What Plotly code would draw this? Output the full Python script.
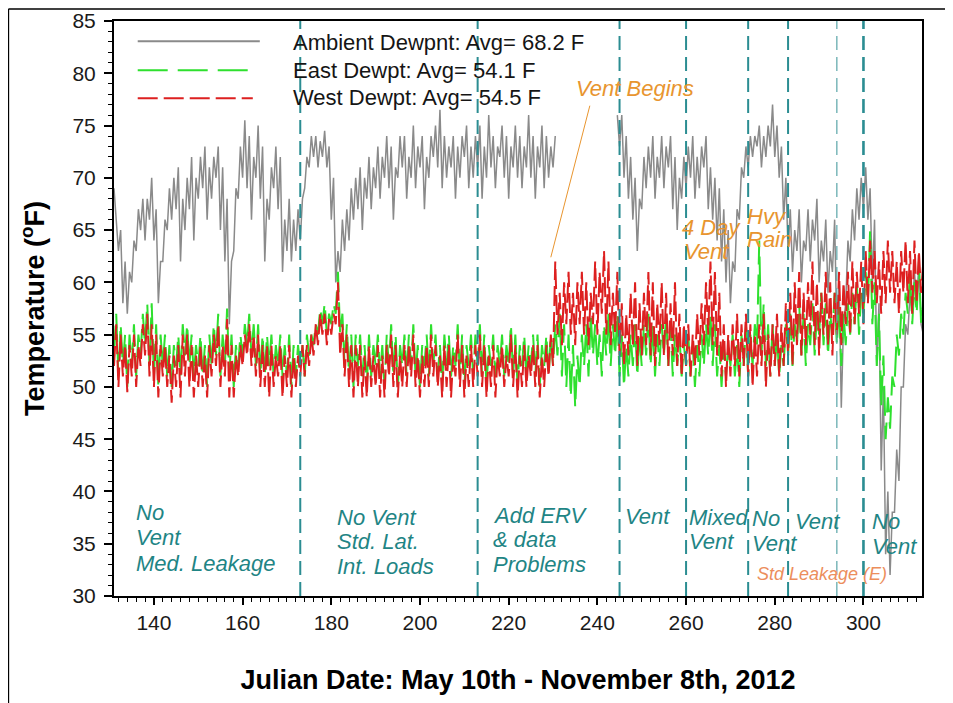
import plotly.graph_objects as go

# ---------------- data (two readings per day: low, high) ----------------
first_day = 131
readings_per_day = 2

ambient_dewpt = [
    69,66, 63,65, 58,62, 57,61, 60,64, 63,67, 65,68, 64,68, 66,70, 64,67,        # 131-140
    58,62, 62,66, 65,69, 66,70, 67,71, 62,68, 65,70, 67,72, 64,70, 68,72,        # 141-150
    69,73, 66,71, 68,72, 70,73, 65,71, 62,68, 56,62, 63,69, 68,73, 70,75.5,      # 151-160
    69,74, 66,72, 70,75, 68,73, 62,68, 66,71, 69,73, 67,72, 61,66, 63,68,        # 161-170
    62,66, 63,67, 64,68, 69,72, 71,74, 72,74, 71,73.5, 72,74.5, 71,73, 66,70,    # 171-180
    60,63, 61,66, 63,67, 64,69, 66,70, 67,71, 65,70, 68,72, 67,71, 69,73,        # 181-190
    68,72, 70,74, 69,73, 66,71, 70,74, 71,74, 68,72, 70,75, 69,73, 71,74,        # 191-200
    67,72, 70,74, 72,75, 71,76.5, 69,74, 70,73, 71,74, 68,73, 70,74, 72,75,      # 201-210
    69,73, 70,74, 71,75, 68,73, 70,76, 71,74, 69,73, 72,75, 70,74, 68,73,        # 211-220
    71,75, 70,74, 69,73, 71,76, 70,74, 68,73, 71,75, 69,74, 70,73, 71,74,        # 221-230
    None,None, None,None, None,None, None,None, None,None,
    None,None, None,None, None,None, None,None, None,None,                        # 231-240
    None,None, None,None, None,None, None,76, 73,76, 70,74, 68,72, 66,70, 63,68, 67,72,  # 241-250
    69,73, 70,74, 68,72, 70,74, 69,73, 71,74, 67,72, 65,70, 68,72, 69,73,        # 251-260
    70,74, 68,72, 69,73, 71,74, 67,71, 66,70, 64,69, 62,67, 60,65, 58,62,        # 261-270
    61,67, 66,71, 70,73, 71,74, 72,74, 73,75, 71,74, 72,75, 73,77, 72,75,        # 271-280
    70,73, 66,70, 63,67, 61,65, 63,67, 60,64, 63,67, 62,66, 64,68, 60,64,        # 281-290
    62,66, 59,63, 61,66, 55,60, 48,56, 58,64, 62,67, 64,69, 66,70, 67,71,        # 291-300
    66,69, 60,66, 52,58, 42,50, 34,40, 32,38, 38,44, 41,50, 50,56, 55,59,        # 301-310
    57,61, 58,62, 56,55,                                                          # 311-313
]

east_dewpt = [
    53,57, 51,56, 52,55, 50,55, 52,56, 51,55, 53,57, 54,58, 52,58, 51,56,        # 131-140
    50,55, 52,55, 51,54, 50,54, 52,55, 51,56, 53,56, 52,55, 51,54, 52,55,        # 141-150
    51,54, 50,55, 52,56, 53,57, 51,55, 52,57.5, 51,55, 50,54, 52,55, 53,56,      # 151-160
    54,57, 53,56, 52,56, 51,55, 51,55, 52,55, 51,54, 52,55, 51,54, 51,55,        # 161-170
    50,54, 51,54, 52,54, 51,55, 53,55, 54,56, 55,57.5, 56,58, 55,57, 56,58,      # 171-180
    57,61, 55,57, 52,56, 51,55, 50,55, 52,55, 51,54, 50,55, 51,54, 52,55,        # 181-190
    51,54, 50,55, 52,56, 51,55, 50,54, 52,55, 51,55, 52,56, 51,54, 50,54,        # 191-200
    52,55, 51,56, 52,55, 51,54, 50,55, 52,55, 51,54, 52,56, 51,55, 50,54,        # 201-210
    52,55, 51,55, 52,56, 51,55, 50,54, 52,55, 51,54, 52,55, 51,54, 52,56,        # 211-220
    51,55, 50,54, 52,55, 51,54, 52,55, 51,55, 50,54, 52,55, 51,55, 52,56,        # 221-230
    53,57, 51,56, 50,55, 49,54, 48,53, 50,55, 52,56, 51,57, 53,56, 52,55,        # 231-240
    51,56, 53,57, 52,56, 53,57, 51,55, 50,54, 51,55, 52,56, 51,55, 52,56,        # 241-250
    53,57, 52,56, 51,55, 52,56, 53,57, 52,56, 51,55, 52,55, 51,54, 52,55,        # 251-260
    51,54, 50,54, 51,55, 52,56, 53,57, 52,56, 51,54, 50,54, 51,54, 52,55,        # 261-270
    51,54, 50,55, 52,56, 51,55, 52,56, 54,64, 53,58, 52,56, 51,56, 52,55,        # 271-280
    51,54, 52,56, 53,57, 52,56, 54,58, 53,57, 52,56, 54,58, 53,57, 55,59,        # 281-290
    54,58, 53,57, 55,59, 54,58, 52,57, 54,58, 55,59, 56,60, 55,59, 57,61,        # 291-300
    58,65, 56,60, 52,57, 48,53, 45,49, 46,51, 50,55, 53,57, 55,59, 57,61,        # 301-310
    56,60, 57,62, 56,58,                                                          # 311-313
]

west_dewpt = [
    52,56, 50,55, 51,54, 49.5,54, 51,55, 50,54, 52,56, 53,57, 51,56, 50,55,      # 131-140
    49,54, 51,54, 50,53, 48.5,53, 50,54, 49,55, 51,55, 50,54, 49,53, 50,54,      # 141-150
    50,53, 49,54, 51,55, 52,56, 50,54, 51,56.5, 49,54, 49,53, 51,54, 52,55,      # 151-160
    53,56, 52,55, 51,55, 50,54, 50,54, 49,54, 50,53, 51,54, 49,53, 50,54,        # 161-170
    49,53, 50,53, 51,54, 51,54, 52,55, 53,56, 54,57, 55,57, 54,56.5, 55,57,      # 171-180
    56,60, 53,56, 51,55, 50,54, 49,54, 50,54, 49,53, 49,54, 50,53, 50,54,        # 181-190
    49,53, 49,54, 51,55, 50,54, 49,53, 50,54, 50,54, 51,55, 50,53, 49,53,        # 191-200
    50,54, 50,55, 51,54, 50,53, 49,54, 50,54, 49,53, 51,55, 50,54, 49,53,        # 201-210
    50,54, 50,54, 51,55, 50,54, 49,53, 50,54, 49,53, 51,54, 50,53, 51,55,        # 211-220
    50,54, 49,53, 50,54, 50,53, 51,54, 50,54, 49,53, 50,54, 51,55, 52,62,        # 221-230
    55,59, 54,60, 56,61, 55,59, 54,60, 56,61, 55,60, 54,59, 56,62, 55,61,        # 231-240
    57,63, 55,62, 54,59, 55,61, 53,58, 52,57, 53,59, 54,60, 52,58, 53,59,        # 241-250
    54,61, 53,60, 52,58, 54,60, 53,59, 52,58, 53,60, 52,57, 51,56, 52,56,        # 251-260
    51,55, 52,57, 53,58, 54,60, 55,62, 54,61, 53,59, 51,56, 50,55, 51,56,        # 261-270
    52,57, 51,56, 52,57, 51,56, 50,55, 51,56, 52,57, 50,55, 51,56, 52,57,        # 271-280
    51,56, 52,58, 53,59, 52,60, 54,61, 53,59, 54,60, 55,62, 54,60, 53,59,        # 281-290
    55,61, 54,60, 53,59, 55,61, 54,60, 56,61, 55,62, 56,61, 57,62, 56,63,        # 291-300
    58,64, 59,63, 58,62, 57,63, 58,64, 59,63, 58,62, 57,63, 59,64, 58,63,        # 301-310
    57,64, 58,63, 59,62,                                                          # 311-313
]

series_names = ["Ambient Dewpnt: Avg= 68.2 F", "East Dewpt: Avg= 54.1 F", "West Dewpt: Avg= 54.5 F"]

# days at which the test configuration changed (vertical dashed lines)
event_days = [173, 213, 245, 260, 274, 283, 294, 300]

x_tick_start, x_tick_step = 140, 20
y_tick_start, y_tick_step = 30, 5
x_range = [131, 313.2]
y_range = [30, 85]

# ---------------- styling ----------------
FONT = "Arial, 'Liberation Sans', sans-serif"
GRAY = "#8a8a8a"
GREEN = "#2ee02e"
RED = "#dd2020"
TEAL_LINE = "#2b8d92"
TEAL_TEXT = "#1f8585"
ORANGE = "#e8952f"
SALMON = "#ec8e5c"

# the page body has an 8 px margin: plot-area edges in page pixels
OFF = 8
L, R, T, B = 114.3, 921.7, 20.7, 596.0
W, H = 953, 703

def times(values):
    return [first_day + i / readings_per_day for i in range(len(values))]

fig = go.Figure()
fig.add_trace(go.Scatter(x=times(ambient_dewpt), y=ambient_dewpt, mode="lines",
                         name=series_names[0], line=dict(color=GRAY, width=1.5),
                         connectgaps=False, showlegend=False))
fig.add_trace(go.Scatter(x=times(east_dewpt), y=east_dewpt, mode="lines",
                         name=series_names[1], line=dict(color=GREEN, width=2, dash="30px,10px"),
                         showlegend=False))
fig.add_trace(go.Scatter(x=times(west_dewpt), y=west_dewpt, mode="lines",
                         name=series_names[2], line=dict(color=RED, width=2, dash="20px,6px"),
                         showlegend=False))

shapes = []
for d in event_days:
    w, c = 2, TEAL_LINE
    if d == 294:
        w, c = 1.2, "#5aa5a8"
    if d == 300:
        w = 2.6
    shapes.append(dict(type="line", xref="x", yref="paper", x0=d, x1=d, y0=0, y1=1,
                       line=dict(color=c, width=w, dash="14px,7px"), layer="above"))

def px(xp):
    return (xp - L) / (R - L)
def py(yp):
    return (B - yp) / (B - T)

# legend samples
shapes.append(dict(type="line", xref="paper", yref="paper", x0=px(138), x1=px(260), y0=py(41), y1=py(41),
                   line=dict(color=GRAY, width=2)))
shapes.append(dict(type="line", xref="paper", yref="paper", x0=px(138), x1=px(248), y0=py(70), y1=py(70),
                   line=dict(color=GREEN, width=2, dash="30px,10px")))
shapes.append(dict(type="line", xref="paper", yref="paper", x0=px(138), x1=px(253), y0=py(98), y1=py(98),
                   line=dict(color=RED, width=2, dash="20px,6px")))
# "Vent Begins" pointer
shapes.append(dict(type="line", xref="x", yref="y", x0=238.3, y0=76.9, x1=229.5, y1=62.4,
                   line=dict(color=ORANGE, width=1)))
# outer picture frame (top and left)
shapes.append(dict(type="line", xref="paper", yref="paper", x0=px(OFF + 0.8), x1=px(OFF + W), y0=py(OFF + 0.8), y1=py(OFF + 0.8),
                   line=dict(color="black", width=1.5)))
shapes.append(dict(type="line", xref="paper", yref="paper", x0=px(OFF + 0.8), x1=px(OFF + 0.8), y0=py(OFF + 0.8), y1=py(OFF + H),
                   line=dict(color="black", width=1.5)))

annotations = []
legend_y = [42, 70, 97]
for name, yp in zip(series_names, legend_y):
    annotations.append(dict(text=name, xref="paper", yref="paper", x=px(291), y=py(yp),
                            xanchor="left", yanchor="middle", showarrow=False,
                            font=dict(family=FONT, size=22, color="#151515")))

teal_labels = [
    (135.6, 37.94, "No"), (135.6, 35.55, "Vent"), (135.6, 33.11, "Med. Leakage"),
    (180.8, 37.55, "No Vent"), (180.8, 35.26, "Std. Lat."), (180.8, 32.87, "Int. Loads"),
    (216.0, 37.74, "Add ERV"), (216.0, 35.36, "&amp; data"), (216.0, 33.06, "Problems"),
    (245.8, 37.65, "Vent"),
    (260.2, 37.5, "Mixed"), (260.2, 35.17, "Vent"),
    (274.4, 37.46, "No"), (274.4, 35.07, "Vent"),
    (284.1, 37.08, "Vent"),
    (301.5, 37.08, "No"), (301.5, 34.78, "Vent"),
]
for xd, yd, t in teal_labels:
    annotations.append(dict(text=t, x=xd, y=yd, xanchor="left", yanchor="middle", showarrow=False,
                            font=dict(family=FONT, size=22, color=TEAL_TEXT, style="italic")))

orange_labels = [
    (234.8, 78.57, "Vent Begins"),
    (258.6, 65.28, "4 Day"), (259.0, 62.98, "Vent"),
    (273.3, 66.33, "Hvy"), (273.3, 64.12, "Rain"),
]
for xd, yd, t in orange_labels:
    annotations.append(dict(text=t, x=xd, y=yd, xanchor="left", yanchor="middle", showarrow=False,
                            font=dict(family=FONT, size=22, color=ORANGE, style="italic")))
annotations.append(dict(text="Std Leakage (E)", x=275.5, y=32.1, xanchor="left", yanchor="middle",
                        showarrow=False, font=dict(family=FONT, size=18, color=SALMON, style="italic")))

axis_common = dict(showline=True, linewidth=2, linecolor="black", mirror=True, showgrid=False,
                   zeroline=False, ticks="outside", tickcolor="black", tickwidth=1.5, automargin=False,
                   tickfont=dict(family=FONT, size=21, color="#1a1a1a"))

fig.update_layout(
    width=W, height=H,
    margin=dict(l=L - OFF, r=W - (R - OFF), t=T - OFF, b=H - (B - OFF), autoexpand=False),
    paper_bgcolor="white", plot_bgcolor="white",
    shapes=shapes, annotations=annotations,
    xaxis=dict(range=x_range, tickmode="linear", tick0=x_tick_start, dtick=x_tick_step, ticklen=7,
               minor=dict(tickmode="linear", tick0=x_tick_start, dtick=2, ticklen=4, tickwidth=1,
                          tickcolor="black", ticks="outside", showgrid=False),
               title=dict(text="Julian Date: May 10th - November 8th, 2012", standoff=37,
                          font=dict(family=FONT, size=27, color="black", weight="bold")),
               **axis_common),
    yaxis=dict(range=y_range, tickmode="linear", tick0=y_tick_start, dtick=y_tick_step, ticklen=8,
               ticklabelstandoff=4,
               minor=dict(tickmode="linear", tick0=y_tick_start, dtick=1, ticklen=4, tickwidth=1,
                          tickcolor="black", ticks="outside", showgrid=False),
               title=dict(text="Temperature (<sup>o</sup>F)", standoff=20,
                          font=dict(family=FONT, size=27, color="black", weight="bold")),
               **axis_common),
    showlegend=False,
)

fig.write_html("out.html")
